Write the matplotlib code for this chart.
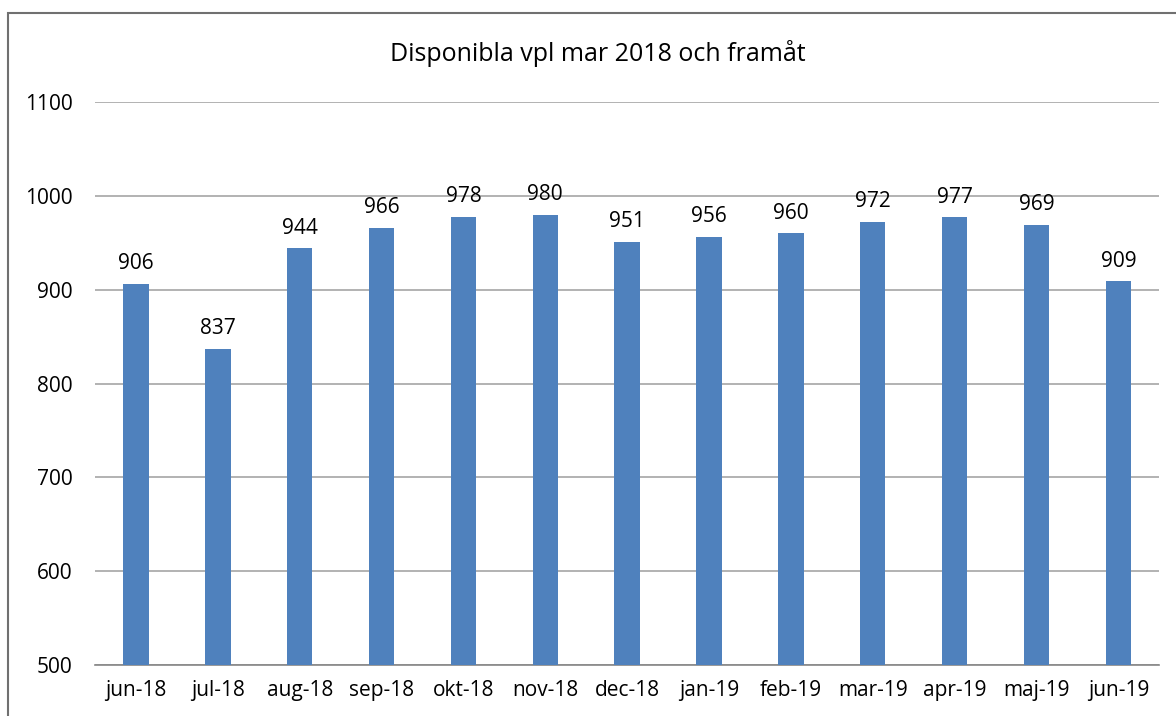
"""Disponibla vpl per månad."""

import matplotlib.pyplot as plt
from matplotlib.patches import Rectangle

months = ["jun-18", "jul-18", "aug-18", "sep-18", "okt-18", "nov-18", "dec-18",
          "jan-19", "feb-19", "mar-19", "apr-19", "maj-19", "jun-19"]
vpl = [906, 837, 944, 966, 978, 980, 951, 956, 960, 972, 977, 969, 909]
yticks = [500, 600, 700, 800, 900, 1000, 1100]

plt.rcParams["font.family"] = ["Open Sans", "DejaVu Sans"]

fig = plt.figure(figsize=(11.76, 7.16), dpi=100)
ax = fig.add_axes([0.0808, 0.0712, 0.905, 0.7863])

x = range(len(months))
ax.bar(x, [v - 500 for v in vpl], bottom=500, width=0.31, color="#4F81BD", zorder=3)
for xi, v in zip(x, vpl):
    ax.annotate(str(v), (xi, v), xytext=(0, 7), textcoords="offset points",
                ha="center", va="bottom", fontsize=15)

ax.set_ylim(500, 1100)
ax.set_xlim(-0.5, len(months) - 0.5)
ax.set_yticks(yticks)
ax.set_xticks(list(x))
ax.set_xticklabels(months)
ax.tick_params(axis="both", length=0, labelsize=15)
ax.tick_params(axis="y", pad=16)
ax.tick_params(axis="x", pad=11)
ax.grid(axis="y", color="#A6A6A6", linewidth=1.2, zorder=0)
for side in ("top", "right", "left"):
    ax.spines[side].set_visible(False)
ax.spines["bottom"].set_color("#868686")
ax.spines["bottom"].set_linewidth(1.2)

fig.text(0.508, 0.925, "Disponibla vpl mar 2018 och framåt", ha="center",
         va="center", fontsize=18)

fig.patches.append(Rectangle((8 / 1176, -0.05), 1.1, 1 - 13 / 716 + 0.05,
                             transform=fig.transFigure, fill=False,
                             edgecolor="#707070", linewidth=1.5))

fig.savefig("out.png")
